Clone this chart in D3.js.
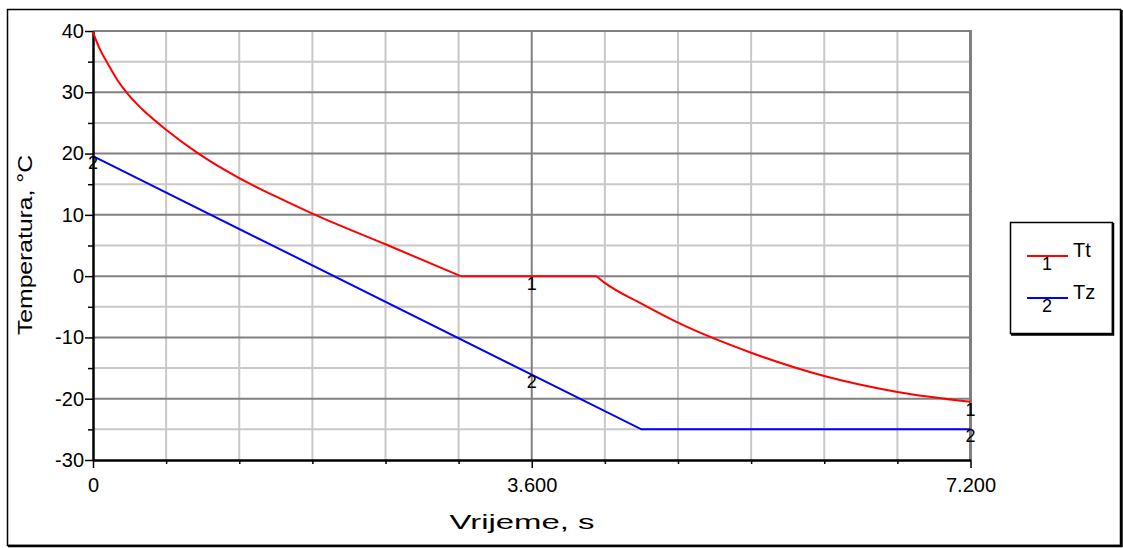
<!DOCTYPE html>
<html>
<head>
<meta charset="utf-8">
<script src="https://cdn.jsdelivr.net/npm/d3@7"></script>
<style>
  body { margin: 0; background: #fff; }
  svg text { font-family: "Liberation Sans", Arial, sans-serif; fill: #000; }
</style>
</head>
<body>
<svg id="chart" width="1123" height="548"></svg>
<script>
// ---- data ----
const ttTime  = [0, 57, 126, 200, 290, 400, 600, 851, 1200, 1500, 1800, 2400, 3017, 4130, 4200, 4500, 4800, 5400, 6000, 6600, 7200];
const ttTemp  = [39.8, 37.0, 34.5, 32.0, 29.6, 27.3, 23.9, 20.2, 16.0, 13.0, 10.2, 5.2, 0.0, 0.0, -1.1, -4.5, -7.6, -12.5, -16.3, -18.9, -20.5];
const tzTime  = [0, 4500, 7200];
const tzTemp  = [19.6, -25.0, -25.0];
const seriesNames = ["Tt", "Tz"];
const seriesMarks = ["1", "2"];
const xTickLabels = [[0, "0"], [3600, "3.600"], [7200, "7.200"]];
const yTickValues = [-30, -20, -10, 0, 10, 20, 30, 40];
const ttMarkTimes = [3600, 7200];
const tzMarkTimes = [0, 3600, 7200];

const svg = d3.select("#chart");
const x = d3.scaleLinear().domain([0, 7200]).range([93, 970.5]);
const y = d3.scaleLinear().domain([-30, 40]).range([460, 31]);

// outer frame with shadow
svg.append("rect").attr("x", 7.5).attr("y", 9.5).attr("width", 1113).attr("height", 536)
  .attr("fill", "#fff").attr("stroke", "#000").attr("stroke-width", 1.5);
svg.append("path").attr("d", "M1121.5,10 V546 H8").attr("fill", "none").attr("stroke", "#000").attr("stroke-width", 2.5);

// grid: minor (light) and major (dark)
const g = svg.append("g");
const xMinor = d3.range(600, 7200, 600).filter(v => v !== 3600);
const yMinor = d3.range(-25, 40, 10);
g.selectAll(".xm").data(xMinor).join("line")
  .attr("x1", d => x(d)).attr("x2", d => x(d)).attr("y1", y(40)).attr("y2", y(-30))
  .attr("stroke", "#c8c8c8").attr("stroke-width", 2);
g.selectAll(".ym").data(yMinor).join("line")
  .attr("x1", x(0)).attr("x2", x(7200)).attr("y1", d => y(d)).attr("y2", d => y(d))
  .attr("stroke", "#c8c8c8").attr("stroke-width", 2);
g.selectAll(".yM").data(yTickValues.filter(v => v > -30)).join("line")
  .attr("x1", x(0)).attr("x2", x(7200)).attr("y1", d => y(d)).attr("y2", d => y(d))
  .attr("stroke", "#808080").attr("stroke-width", 2);
g.selectAll(".xM").data([3600]).join("line")
  .attr("x1", d => x(d)).attr("x2", d => x(d)).attr("y1", y(40)).attr("y2", y(-30))
  .attr("stroke", "#808080").attr("stroke-width", 2);
g.append("line").attr("x1", x(7200)).attr("x2", x(7200)).attr("y1", y(40) - 1).attr("y2", y(-30))
  .attr("stroke", "#808080").attr("stroke-width", 3);

// axes
const yAxis = d3.axisLeft(y).tickValues(yTickValues).tickSize(8).tickSizeOuter(0).tickPadding(1)
  .tickFormat(d => d);
const yAx = svg.append("g").attr("transform", `translate(${x(0)},0)`).call(yAxis);
yAx.select(".domain").attr("stroke", "#000").attr("stroke-width", 2.5);
yAx.selectAll(".tick line").attr("stroke-width", 1.5);
yAx.selectAll(".tick text").attr("font-size", 20).attr("font-family", "Liberation Sans, Arial");
const yAxisMinor = d3.axisLeft(y).tickValues(yMinor).tickSize(5).tickFormat("");
const yAxM = svg.append("g").attr("transform", `translate(${x(0)},0)`).call(yAxisMinor);
yAxM.select(".domain").remove();
yAxM.selectAll(".tick line").attr("stroke-width", 1.5);

const xAxis = d3.axisBottom(x).tickValues(xTickLabels.map(d => d[0])).tickSize(8).tickSizeOuter(0).tickPadding(10)
  .tickFormat((d, i) => xTickLabels[i][1]);
const xAx = svg.append("g").attr("transform", `translate(0,${y(-30)})`).call(xAxis);
xAx.select(".domain").attr("stroke", "#000").attr("stroke-width", 2.5);
xAx.selectAll(".tick line").attr("stroke-width", 1.5);
xAx.selectAll(".tick text").attr("font-size", 20).attr("font-family", "Liberation Sans, Arial");
const xAxisMinor = d3.axisBottom(x).tickValues(xMinor).tickSize(4).tickFormat("");
const xAxM = svg.append("g").attr("transform", `translate(0,${y(-30)})`).call(xAxisMinor);
xAxM.select(".domain").remove();
xAxM.selectAll(".tick line").attr("stroke-width", 1.5);

// axis titles
svg.append("text").attr("x", 522).attr("y", 529).attr("text-anchor", "middle")
  .attr("font-size", 21).attr("textLength", 145).attr("lengthAdjust", "spacingAndGlyphs").text("Vrijeme, s");
svg.append("text").attr("transform", "translate(32,245) rotate(-90)").attr("text-anchor", "middle")
  .attr("font-size", 20).attr("textLength", 180).attr("lengthAdjust", "spacingAndGlyphs").text("Temperatura, °C");

// lines: three monotone pieces (descent, plateau, descent)
const tt = ttTime.map((t, i) => [t, ttTemp[i]]);
const tz = tzTime.map((t, i) => [t, tzTemp[i]]);
const line = d3.line().x(d => x(d[0])).y(d => y(d[1])).curve(d3.curveMonotoneX);
const lineLin = d3.line().x(d => x(d[0])).y(d => y(d[1]));
const i0 = ttTemp.indexOf(0.0), i1 = ttTemp.lastIndexOf(0.0);
[tt.slice(0, i0 + 1), tt.slice(i0, i1 + 1), tt.slice(i1)].forEach(seg => {
  svg.append("path").datum(seg).attr("d", line).attr("fill", "none").attr("stroke", "#ff0000").attr("stroke-width", 2);
});
svg.append("path").datum(tz).attr("d", lineLin).attr("fill", "none").attr("stroke", "#0000ff").attr("stroke-width", 2);

function interp(times, temps, t) {
  for (let i = 0; i < times.length - 1; i++) {
    if (t >= times[i] && t <= times[i + 1]) {
      const f = (t - times[i]) / (times[i + 1] - times[i]);
      return temps[i] + f * (temps[i + 1] - temps[i]);
    }
  }
  return temps[temps.length - 1];
}
// series number marks on the curves
ttMarkTimes.forEach(t => {
  svg.append("text").attr("x", x(t)).attr("y", y(interp(ttTime, ttTemp, t)) + 14)
    .attr("text-anchor", "middle").attr("font-size", 18).text(seriesMarks[0]);
});
tzMarkTimes.forEach(t => {
  svg.append("text").attr("x", x(t)).attr("y", y(interp(tzTime, tzTemp, t)) + 13)
    .attr("text-anchor", "middle").attr("font-size", 18).text(seriesMarks[1]);
});

// legend
svg.append("rect").attr("x", 1010.5).attr("y", 222.5).attr("width", 102).attr("height", 111)
  .attr("fill", "#fff").attr("stroke", "#000").attr("stroke-width", 1.5);
svg.append("path").attr("d", "M1113,223 V334.5 H1011").attr("fill", "none").attr("stroke", "#000").attr("stroke-width", 2.5);
const legColors = ["#ff0000", "#0000ff"];
const legY = [256, 298];
seriesNames.forEach((name, i) => {
  svg.append("line").attr("x1", 1027).attr("x2", 1068).attr("y1", legY[i]).attr("y2", legY[i])
    .attr("stroke", legColors[i]).attr("stroke-width", 2);
  svg.append("text").attr("x", 1047).attr("y", legY[i] + 14).attr("text-anchor", "middle")
    .attr("font-size", 18).text(seriesMarks[i]);
  svg.append("text").attr("x", 1073).attr("y", legY[i] + 1).attr("font-size", 20).text(name);
});
</script>
</body>
</html>
